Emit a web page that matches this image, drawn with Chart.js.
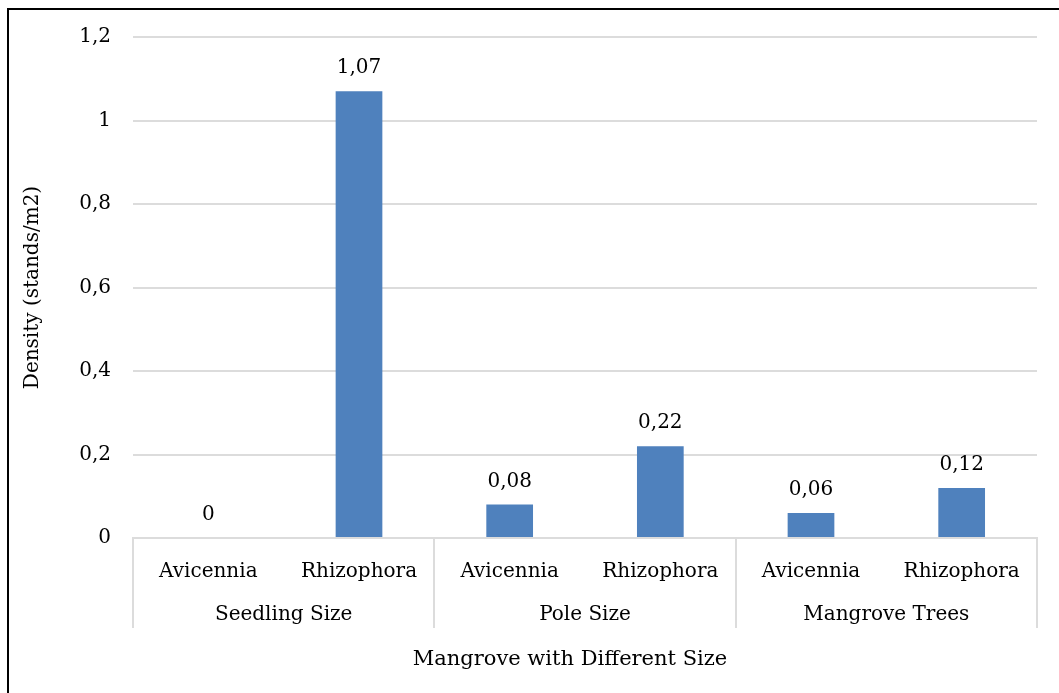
<!DOCTYPE html>
<html>
<head>
<meta charset="utf-8">
<title>Mangrove density</title>
<script src="https://cdn.jsdelivr.net/npm/chart.js@4.4.1/dist/chart.umd.min.js"></script>
<style>
  html, body { margin: 0; padding: 0; background: #fff; overflow: hidden; }
  #wrap { position: relative; width: 1059px; height: 693px; }
  #frame { position: absolute; left: 7px; top: 8px; width: 1060px; height: 700px;
           border-left: 2px solid #000; border-top: 2px solid #000; pointer-events: none; }
  canvas { position: absolute; left: 0; top: 0; }
</style>
</head>
<body>
<div id="wrap">
  <canvas id="chart" width="1059" height="693"></canvas>
  <div id="frame"></div>
</div>
<script>
// Species per bar, grouped two by two into size classes
const species = ['Avicennia', 'Rhizophora', 'Avicennia', 'Rhizophora', 'Avicennia', 'Rhizophora'];
const sizeGroups = ['Seedling Size', 'Pole Size', 'Mangrove Trees'];
// Density in stands per m2
const density = [0, 1.07, 0.08, 0.22, 0.06, 0.12];
// Value axis labels (comma decimal separator)
const yTickLabels = ['0', '0,2', '0,4', '0,6', '0,8', '1', '1,2'];
const xTitle = 'Mangrove with Different Size';

const FONT = 'DejaVu Serif';
const FONT_SIZE = 20;
const GRID = '#dcdcdc';
const TEXT = '#000000';

const fmt = v => String(v).replace('.', ',');

// Writes each bar's value just above it
const valueLabels = {
  id: 'valueLabels',
  afterDatasetsDraw(chart) {
    const ctx = chart.ctx;
    const meta = chart.getDatasetMeta(0);
    ctx.save();
    ctx.font = FONT_SIZE + 'px "' + FONT + '"';
    ctx.fillStyle = TEXT;
    ctx.textAlign = 'center';
    ctx.textBaseline = 'middle';
    meta.data.forEach((bar, i) => {
      ctx.fillText(fmt(density[i]), bar.x, bar.y - 23);
    });
    ctx.restore();
  }
};

// Category axis title, placed under the size-class row
const categoryTitle = {
  id: 'categoryTitle',
  afterDraw(chart) {
    const ctx = chart.ctx;
    const x2 = chart.scales.x2;
    const cx = (x2.left + x2.right) / 2 - 15;
    ctx.save();
    ctx.font = '21px "' + FONT + '"';
    ctx.fillStyle = TEXT;
    ctx.textAlign = 'center';
    ctx.textBaseline = 'middle';
    ctx.fillText(xTitle, cx, x2.bottom - 33);
    ctx.restore();
  }
};

new Chart(document.getElementById('chart'), {
  type: 'bar',
  data: {
    labels: species,
    datasets: [{
      data: density,
      backgroundColor: '#4f81bd',
      borderWidth: 0,
      barPercentage: 0.31,
      categoryPercentage: 1,
      xAxisID: 'x',
      yAxisID: 'y'
    }]
  },
  options: {
    responsive: false,
    animation: false,
    layout: { padding: { left: 0, top: 37, right: 22, bottom: 0 } },
    plugins: { legend: { display: false }, tooltip: { enabled: false } },
    scales: {
      y: {
        min: 0,
        max: 1.2,
        ticks: {
          stepSize: 0.2,
          padding: 22,
          color: TEXT,
          font: { family: FONT, size: FONT_SIZE },
          callback: (v, i) => yTickLabels[i]
        },
        grid: { color: GRID, drawTicks: false, lineWidth: 2 },
        border: { display: false },
        title: {
          display: true,
          text: 'Density (stands/m2)',
          color: TEXT,
          font: { family: FONT, size: FONT_SIZE },
          padding: { top: 21, bottom: 0 }
        },
        afterFit: s => { s.width = 133; }
      },
      x: {
        position: 'bottom',
        offset: true,
        ticks: {
          color: TEXT,
          font: { family: FONT, size: FONT_SIZE },
          padding: -30,
          maxRotation: 0,
          autoSkip: false
        },
        grid: {
          offset: true,
          drawOnChartArea: false,
          tickLength: 52,
          lineWidth: 2,
          // divider only between size classes
          color: c => (c.index === undefined || c.index % 2 === 0) ? GRID : 'rgba(0,0,0,0)'
        },
        border: { display: true, color: GRID, width: 2 },
        afterFit: s => { s.height = 52; }
      },
      x2: {
        type: 'category',
        position: 'bottom',
        labels: sizeGroups,
        offset: true,
        ticks: {
          color: TEXT,
          font: { family: FONT, size: FONT_SIZE },
          padding: -25,
          maxRotation: 0,
          autoSkip: false
        },
        grid: {
          offset: true,
          drawOnChartArea: false,
          tickLength: 38,
          lineWidth: 2,
          color: GRID
        },
        border: { display: false },
        afterFit: s => { s.height = 103; }
      }
    }
  },
  plugins: [valueLabels, categoryTitle]
});
</script>
</body>
</html>
